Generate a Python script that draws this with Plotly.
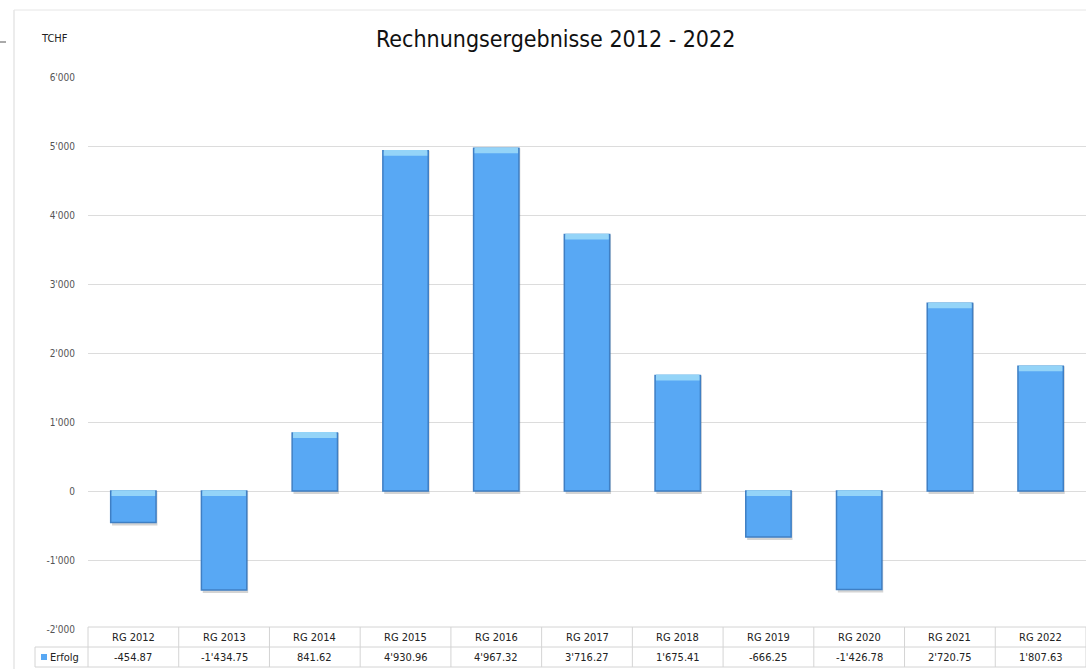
import plotly.graph_objects as go

categories = ["RG 2012", "RG 2013", "RG 2014", "RG 2015", "RG 2016", "RG 2017",
              "RG 2018", "RG 2019", "RG 2020", "RG 2021", "RG 2022"]
values = [-454.87, -1434.75, 841.62, 4930.96, 4967.32, 3716.27,
          1675.41, -666.25, -1426.78, 2720.75, 1807.63]
series_name = "Erfolg"
tick_vals = [-2000, -1000, 0, 1000, 2000, 3000, 4000, 5000, 6000]
title_text = "Rechnungsergebnisse 2012 - 2022"
unit_text = "TCHF"

FONT = "DejaVu Sans Condensed, Liberation Sans Narrow, sans-serif"


def fmt(v):
    return f"{v:,.2f}".replace(",", "'")


def fmt_tick(v):
    return f"{v:,.0f}".replace(",", "'")


x = list(range(len(categories)))
tops = [max(v, 0) for v in values]
bottoms = [min(v, 0) for v in values]
cap = 85.0

fig = go.Figure()
# soft shadow
fig.add_trace(go.Bar(
    x=x, y=[t - b + 45 for t, b in zip(tops, bottoms)], base=[b - 45 for b in bottoms],
    width=0.5, offset=-0.235,
    marker=dict(color="rgba(60,60,60,0.22)", line=dict(width=0)),
    showlegend=False, hoverinfo="skip",
))
# main bars
fig.add_trace(go.Bar(
    x=x, y=values, width=0.5, offset=-0.25,
    marker=dict(color="#58a8f4", line=dict(color="#3f7fc4", width=1.5)),
    name=series_name, showlegend=False, hoverinfo="skip",
))
# light cap at the top face
fig.add_trace(go.Bar(
    x=x, y=[cap] * len(x), base=[t - cap + 12 for t in tops], width=0.48, offset=-0.24,
    marker=dict(color="#94d4f8", line=dict(width=0)),
    showlegend=False, hoverinfo="skip",
))

n = len(categories)
H = 552.0


def py(px_from_bottom):
    return px_from_bottom / H


shapes = []
line_col = "#d4d4d4"
y_top = py(2)
y_mid = py(-18)
y_bot = py(-38)
x_first = -53 / 998.0
for yy, x0 in ((y_top, 0), (y_mid, x_first), (y_bot, x_first)):
    shapes.append(dict(type="line", xref="paper", yref="paper", x0=x0, x1=1, y0=yy, y1=yy,
                       line=dict(color=line_col, width=1)))
for k in range(n + 1):
    xp = k / n
    shapes.append(dict(type="line", xref="paper", yref="paper", x0=xp, x1=xp, y0=y_top, y1=y_bot,
                       line=dict(color=line_col, width=1)))
shapes.append(dict(type="line", xref="paper", yref="paper", x0=x_first, x1=x_first, y0=y_mid, y1=y_bot,
                   line=dict(color=line_col, width=1)))
# outer chart frame
shapes.append(dict(type="line", xref="paper", yref="paper", x0=-74 / 998.0, x1=-74 / 998.0,
                   y0=py(619), y1=py(-45), line=dict(color="#d9d9d9", width=1)))
shapes.append(dict(type="line", xref="paper", yref="paper", x0=-74 / 998.0, x1=1.01,
                   y0=py(619), y1=py(619), line=dict(color="#e6e6e6", width=1)))
# small dash at far left
shapes.append(dict(type="line", xref="paper", yref="paper", x0=-88 / 998.0, x1=-82 / 998.0,
                   y0=py(587), y1=py(587), line=dict(color="#555555", width=1)))
# legend icon
shapes.append(dict(type="rect", xref="paper", yref="paper", x0=-47 / 998.0, x1=-41 / 998.0,
                   y0=py(-25), y1=py(-31), line=dict(width=0), fillcolor="#58a8f4"))

annotations = []
tfont = dict(family=FONT, size=11, color="#222")
for i, c in enumerate(categories):
    annotations.append(dict(x=i, xref="x", y=(y_top + y_mid) / 2, yref="paper", text=c,
                            showarrow=False, font=tfont, xanchor="center", yanchor="middle"))
    annotations.append(dict(x=i, xref="x", y=(y_mid + y_bot) / 2, yref="paper", text=fmt(values[i]),
                            showarrow=False, font=tfont, xanchor="center", yanchor="middle"))
annotations.append(dict(x=-40 / 998.0, xref="paper", y=(y_mid + y_bot) / 2, yref="paper",
                        text=series_name, showarrow=False, font=tfont,
                        xanchor="left", yanchor="middle"))
annotations.append(dict(x=-49 / 998.0, xref="paper", y=py(590), yref="paper",
                        text=unit_text, showarrow=False, font=tfont,
                        xanchor="left", yanchor="middle"))
annotations.append(dict(x=0.468, xref="paper", y=py(590), yref="paper",
                        text=title_text, showarrow=False,
                        font=dict(family="DejaVu Sans Condensed, sans-serif", size=23, color="#111"),
                        xanchor="center", yanchor="middle"))

fig.update_layout(
    width=1086, height=669,
    margin=dict(l=88, r=0, t=77, b=40),
    paper_bgcolor="white", plot_bgcolor="white",
    separators=".'",
    showlegend=False,
    barmode="overlay",
    xaxis=dict(range=[-0.5, n - 0.5], showticklabels=False, showgrid=False, zeroline=False,
               showline=False, fixedrange=True),
    yaxis=dict(range=[-2000, 6000], tickvals=tick_vals, ticktext=[fmt_tick(v) for v in tick_vals],
               showgrid=True, gridcolor="#dcdcdc", gridwidth=1, zeroline=False, showline=False,
               tickfont=dict(family=FONT, size=10, color="#555"), ticklabelstandoff=12,
               fixedrange=True),
    shapes=shapes,
    annotations=annotations,
)

fig.write_html("out.html")
